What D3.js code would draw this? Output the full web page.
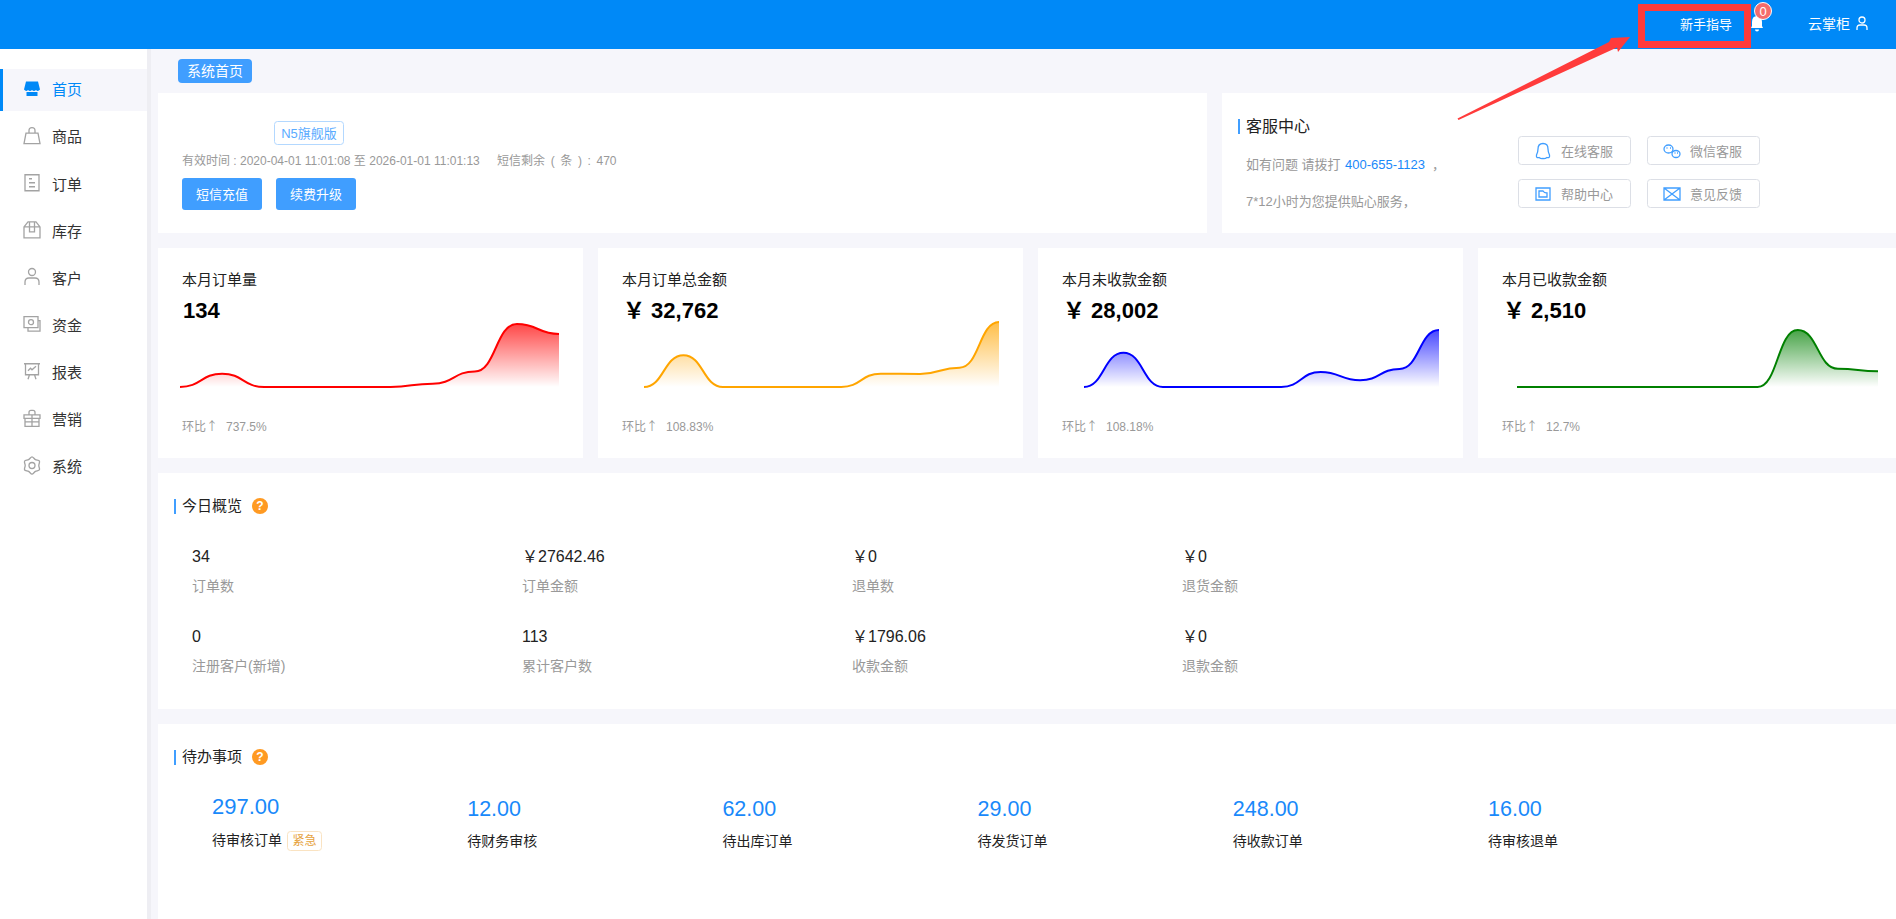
<!DOCTYPE html>
<html>
<head>
<meta charset="utf-8">
<title>系统首页</title>
<script src="https://cdn.jsdelivr.net/npm/d3@7"></script>
<style>
  html, body { margin: 0; padding: 0; background: #f6f6fb; overflow: hidden; }
  svg { display: block; }
  text { font-family: "Liberation Sans", "Noto Sans CJK SC", sans-serif; }
</style>
</head>
<body>
<div id="page"></div>
<script>
// Chart values
var navLabels = ["首页", "商品", "订单", "库存", "客户", "资金", "报表", "营销", "系统"];
var kpiTitles = ["本月订单量", "本月订单总金额", "本月未收款金额", "本月已收款金额"];
var kpiValues = ["134", "￥ 32,762", "￥ 28,002", "￥ 2,510"];
var kpiRatios = ["737.5%", "108.83%", "108.18%", "12.7%"];
var orderCounts = [0, 12, 0, 0, 0, 0, 3, 14, 57, 48];
var orderAmounts = [0, 7300, 0, 0, 0, 0, 3060, 3000, 4450, 14952];
var unpaidAmounts = [0, 7300, 0, 0, 0, 0, 3220, 1440, 3865, 12177];
var paidAmounts = [0, 0, 0, 0, 0, 0, 0, 1575, 503, 432];
var overviewValues = ["34", "￥27642.46", "￥0", "￥0", "0", "113", "￥1796.06", "￥0"];
var overviewLabels = ["订单数", "订单金额", "退单数", "退货金额", "注册客户(新增)", "累计客户数", "收款金额", "退款金额"];
var todoValues = ["297.00", "12.00", "62.00", "29.00", "248.00", "16.00"];
var todoLabels = ["待审核订单", "待财务审核", "待出库订单", "待发货订单", "待收款订单", "待审核退单"];
var serviceLabels = ["在线客服", "微信客服", "帮助中心", "意见反馈"];

var svgWidth = 1896;
var svgHeight = 919;

var blue = "#0089f7";
var btnBlue = "#409eff";
var grey = "#999";
var iconGrey = "#a3a3a3";
var red = "#ff3b3b";

var svg = d3.select("#page")
  .append("svg")
  .attr("width", svgWidth)
  .attr("height", svgHeight);

var defs = svg.append("defs");

function addRect(x, y, w, h, fill, r) {
  return svg.append("rect")
    .attr("x", x).attr("y", y)
    .attr("width", w).attr("height", h)
    .attr("rx", r || 0)
    .attr("fill", fill);
}

function addText(x, y, str, size, color, anchor, weight) {
  return svg.append("text")
    .attr("x", x).attr("y", y)
    .attr("dy", ".35em")
    .attr("font-size", size)
    .attr("fill", color)
    .attr("text-anchor", anchor || "start")
    .attr("font-weight", weight || "normal")
    .text(str);
}

// small outline icon, path is drawn around (0,0)
function addIcon(cx, cy, d, color, filled) {
  return svg.append("path")
    .attr("transform", `translate(${cx}, ${cy})`)
    .attr("d", d)
    .attr("fill", filled ? color : "none")
    .attr("stroke", filled ? "none" : color)
    .attr("stroke-width", 1.3);
}

// Page background
addRect(0, 0, svgWidth, svgHeight, "#f6f6fb");

// Sidebar
addRect(147, 49, 4, svgHeight - 49, "#eeeef3");
addRect(0, 49, 147, svgHeight - 49, "#fff");
addRect(0, 69, 147, 42, "#f6f6fb");
addRect(0, 69, 3, 42, blue);

// gear outline for the last menu entry
var gearPath = d3.lineRadial()
  .angle(function (d) { return d * Math.PI / 6; })
  .radius(function (d) { return d % 2 ? 6.8 : 8.6; })
  .curve(d3.curveCardinalClosed)(d3.range(12));

var navIcons = [
  "M-6,-7H6L8,1Q6,3.5 4,1.5Q2,3.5 0,1.5Q-2,3.5 -4,1.5Q-6,3.5 -8,1ZM-5.5,3.5H5.5V7.5H-5.5Z",
  "M-6,-2.5H6L8,8H-8ZM-3,-2.5V-5Q-3,-8 0,-8Q3,-8 3,-5V-2.5",
  "M-7,-8H7V8H-7ZM-3,-4H0M-3,0H3M-3,4H3",
  "M-8,-3L-4,-8H4L8,-3V8H-8ZM-8,-3H8M-2.5,-8V2H2.5V-8",
  "M-3.5,-5a3.5,3.5 0 1,0 7,0a3.5,3.5 0 1,0 -7,0M-7,8V5Q-7,1 -3,1H3Q7,1 7,5V8",
  "M-8,-7.5H6V3.5H-8ZM-3.5,-2a2.5,2.5 0 1,0 5,0a2.5,2.5 0 1,0 -5,0M-4,3.5V7H8V-3.5H6",
  "M-8,-7.5H8M-6.5,-7.5V3.5H6.5V-7.5M-4,-0.5L-1.5,-3L0,-1.5L4,-5M-2.5,3.5L-4,8M2.5,3.5L4,8",
  "M-8,-3.5H8V0H-8ZM-7,0H7V8H-7ZM-7,3.5H7M0,-3.5V8M-3,-3.5V-6Q-3,-8 -1,-8H1Q3,-8 3,-6V-3.5",
  gearPath + "M-3,0a3,3 0 1,0 6,0a3,3 0 1,0 -6,0"
];
var navY = d3.scalePoint().domain(navLabels).range([90, 467]);

navLabels.forEach(function (label, i) {
  var active = i === 0;
  addIcon(32, navY(label) - 1.5, navIcons[i], active ? blue : iconGrey, active);
  addText(52, navY(label), label, 15, active ? blue : "#333");
});

// Header
addRect(0, 0, svgWidth, 49, blue);
addText(1680, 24, "新手指导", 13, "#fff");
addIcon(1757, 23, "M0,-7Q-5,-7 -5,-1V3L-6,5H6L5,3V-1Q5,-7 0,-7ZM-2,6.5H2Q2,8.5 0,8.5Q-2,8.5 -2,6.5Z", "#fff", true);
svg.append("circle")
  .attr("cx", 1763).attr("cy", 11).attr("r", 8.5)
  .attr("fill", "#f56c6c").attr("stroke", "#fff").attr("stroke-width", 1);
addText(1763, 11, "0", 13, "#fff", "middle");
addText(1808, 24, "云掌柜", 14, "#fff");
addIcon(1862, 24, "M-3,-4a3,3 0 1,0 6,0a3,3 0 1,0 -6,0M-5,6V4Q-5,1 -2,1H2Q5,1 5,4V6", "#fff");

// Breadcrumb tag
addRect(178, 59, 74, 24, btnBlue, 4);
addText(215, 71, "系统首页", 14, "#fff", "middle");

// Account card
addRect(158, 93, 1049, 140, "#fff");
svg.append("rect")
  .attr("x", 274.5).attr("y", 121.5).attr("width", 69).attr("height", 23).attr("rx", 3)
  .attr("fill", "#fff").attr("stroke", "#b3d8ff");
addText(309, 133, "N5旗舰版", 13, "#5aabff", "middle");
addText(182, 161, "有效时间 : 2020-04-01 11:01:08 至 2026-01-01 11:01:13", 12, grey);
addText(497, 161, "短信剩余 ( 条 ) : 470", 12, grey).attr("word-spacing", 2.3);
addRect(182, 178, 80, 32, btnBlue, 3);
addRect(276, 178, 80, 32, btnBlue, 3);
addText(222, 194, "短信充值", 13, "#fff", "middle");
addText(316, 194, "续费升级", 13, "#fff", "middle");

// Service card
addRect(1222, 93, svgWidth - 1222, 140, "#fff");
addRect(1238, 119, 2, 15, btnBlue);
addText(1246, 126, "客服中心", 16, "#222");
addText(1246, 164, "如有问题 请拨打", 13, grey);
addText(1345, 164, "400-655-1123", 13, "#1989fa");
addText(1432, 164, "，", 13, grey);
addText(1246, 201, "7*12小时为您提供贴心服务，", 13, grey);

var serviceIcons = [
  "M0,-7.5Q-5,-7.5 -5,-2Q-5,1 -6.5,4Q-7,7.5 -4,6.5Q-2,8 0,7.5Q2,8 4,6.5Q7,7.5 6.5,4Q5,1 5,-2Q5,-7.5 0,-7.5Z",
  "M-8,-2a4.5,4 0 1,0 9,0a4.5,4 0 1,0 -9,0M0,3a4,3.5 0 1,0 8,0a4,3.5 0 1,0 -8,0M-5.5,-3h1M-2,-3h1M2.5,2h1M5,2h1",
  "M-7,-6H7V6H-7ZM-4,-3H0Q1,-1 4,-1V3H-4Z",
  "M-8,-6H8V6H-8ZM-8,-6L8,6M8,-6L-8,6"
];
var serviceX = d3.scalePoint().domain([0, 1]).range([1518, 1647]);
var serviceY = d3.scalePoint().domain([0, 1]).range([136, 179]);

serviceLabels.forEach(function (label, i) {
  var bx = serviceX(i % 2);
  var by = serviceY(Math.floor(i / 2));
  svg.append("rect")
    .attr("x", bx + 0.5).attr("y", by + 0.5)
    .attr("width", 112).attr("height", 28).attr("rx", 3)
    .attr("fill", "#fff").attr("stroke", "#dcdfe6");
  addIcon(bx + 25, by + 15, serviceIcons[i], btnBlue);
  addText(bx + 43, by + 15, label, 13, grey);
});

// KPI cards with the small area charts
var cardX = d3.scaleLinear().domain([0, 3]).range([158, 1478]);
var chartSeries = [orderCounts, orderAmounts, unpaidAmounts, paidAmounts];
var chartColors = ["#ff0000", "#ffa500", "#0000ff", "#008000"];
var chartLeft = [180, 644, 1084, 1517];
var chartRight = [559, 999, 1439, 1878];
var chartHeight = [63, 65, 57, 57];
var baseline = 387;

kpiTitles.forEach(function (title, i) {
  var left = cardX(i);
  addRect(left, 248, i === 3 ? svgWidth - left : 425, 210, "#fff");
  addText(left + 24, 280, title, 15, "#222");
  addText(left + 25, 310, kpiValues[i], 22, "#000", "start", "bold");
  addText(left + 24, 427, "环比↑", 12, grey).style("font-family", "'Noto Sans CJK SC'");
  addText(left + 68, 427, kpiRatios[i], 12, grey);

  var values = chartSeries[i];
  var xScale = d3.scaleLinear()
    .domain([0, values.length - 1])
    .range([chartLeft[i], chartRight[i]]);
  var yScale = d3.scaleLinear()
    .domain([0, d3.max(values)])
    .range([baseline, baseline - chartHeight[i]]);

  var grad = defs.append("linearGradient")
    .attr("id", "fade" + i)
    .attr("x1", 0).attr("y1", 0).attr("x2", 0).attr("y2", 1);
  grad.append("stop").attr("offset", 0).attr("stop-color", chartColors[i]).attr("stop-opacity", 0.72);
  grad.append("stop").attr("offset", 1).attr("stop-color", chartColors[i]).attr("stop-opacity", 0);

  // bump curve keeps the line flat at each point, like the original
  var area = d3.area()
    .x(function (d, j) { return xScale(j); })
    .y0(baseline)
    .y1(function (d) { return yScale(d); })
    .curve(d3.curveBumpX);
  var line = d3.line()
    .x(function (d, j) { return xScale(j); })
    .y(function (d) { return yScale(d); })
    .curve(d3.curveBumpX);

  svg.append("path").datum(values)
    .attr("d", area)
    .attr("fill", "url(#fade" + i + ")");
  svg.append("path").datum(values)
    .attr("d", line)
    .attr("fill", "none")
    .attr("stroke", chartColors[i])
    .attr("stroke-width", 2);
});

// Section title with the blue mark and the help dot
function sectionTitle(y, str) {
  addRect(174, y - 7, 2, 15, btnBlue);
  addText(182, y, str, 15, "#222");
  svg.append("circle").attr("cx", 260).attr("cy", y).attr("r", 8).attr("fill", "#ff9a22");
  addText(260, y, "?", 12, "#fff", "middle", "bold");
}

// Today overview
addRect(158, 473, svgWidth - 158, 236, "#fff");
sectionTitle(506, "今日概览");
overviewLabels.forEach(function (label, i) {
  var col = i % 4;
  var row = Math.floor(i / 4);
  addText(192 + col * 330, 556 + row * 80, overviewValues[i], 16, "#222");
  addText(192 + col * 330, 586 + row * 80, label, 14, grey);
});

// To do list
addRect(158, 724, svgWidth - 158, svgHeight - 724, "#fff");
sectionTitle(757, "待办事项");
var todoX = d3.scalePoint().domain(todoLabels).range([212, 1488]);
todoLabels.forEach(function (label, i) {
  addText(todoX(label), i === 0 ? 806 : 808, todoValues[i], i === 0 ? 22 : 21.5, "#1989fa");
  addText(todoX(label), i === 0 ? 840 : 841, label, 14, "#222");
});
svg.append("rect")
  .attr("x", 287.5).attr("y", 831.5).attr("width", 34).attr("height", 19).attr("rx", 3)
  .attr("fill", "#fff").attr("stroke", "#fae3c2");
addText(304.5, 841, "紧急", 12, "#e6a23c", "middle");

// Red annotation on top of the screenshot
svg.append("rect")
  .attr("x", 1641.5).attr("y", 7.5).attr("width", 106).attr("height", 37)
  .attr("fill", "none").attr("stroke", red).attr("stroke-width", 7);
svg.append("path")
  .attr("d", "M1457.5,118.5L1609,42L1611,38L1630,37L1618,52L1617,47.5L1458.5,120Z")
  .attr("fill", red);
</script>
</body>
</html>
